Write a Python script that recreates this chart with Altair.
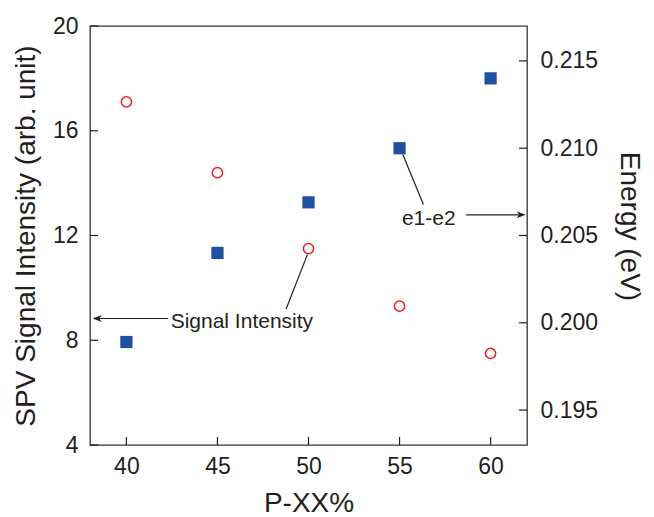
import altair as alt
import pandas as pd

# ---- data ----
p_xx = [40, 45, 50, 55, 60]
signal_intensity = [17.1, 14.4, 11.5, 9.3, 7.5]
energy = [0.1989, 0.2040, 0.2069, 0.2100, 0.2140]

x_ticks = [40, 45, 50, 55, 60]
left_ticks = [4, 8, 12, 16, 20]
right_ticks = [0.195, 0.200, 0.205, 0.210, 0.215]

x_domain = [38, 62]
left_domain = [4, 20]
right_domain = [0.193, 0.217]

# annotations (data units of x and left axis)
label_text = ["Signal Intensity", "e1-e2"]
label_x = [42.43, 55.13]
label_y = [8.47, 12.41]

line_x = [42.29, 48.77, 58.66, 55.18]
line_x2 = [38.4, 49.94, 61.7, 56.31]
line_y = [8.83, 9.19, 12.79, 15.09]
line_y2 = [8.83, 11.27, 12.79, 13.18]

head_x = [38.15, 61.93]
head_y = [8.83, 12.79]
head_dir = ["left", "right"]

W, H = 437, 419
INK = "#231f20"
FONT = "Liberation Sans"

pts = pd.DataFrame({"p": p_xx, "s": signal_intensity, "e": energy})
xs = alt.Scale(domain=x_domain, nice=False, zero=False)
ls = alt.Scale(domain=left_domain, nice=False, zero=False)
rs = alt.Scale(domain=right_domain, nice=False, zero=False)

x_axis = alt.Axis(values=x_ticks, grid=False, ticks=False, domain=False,
                  labelPadding=10, titlePadding=11, title="P-XX%")
l_axis = alt.Axis(values=left_ticks, grid=False, ticks=False, domain=False,
                  labelPadding=12, titlePadding=12, title="SPV Signal Intensity (arb. unit)")
r_axis = alt.Axis(orient="right", values=right_ticks, format=".3f", grid=False,
                  ticks=False, domain=False, labelPadding=13, titlePadding=17,
                  titleY=200, title="Energy (eV)")

circles = alt.Chart(pts).mark_point(shape="circle", filled=False, color="#ec1c24",
                                    size=105, strokeWidth=1.5, opacity=1).encode(
    x=alt.X("p:Q", scale=xs, axis=x_axis),
    y=alt.Y("s:Q", scale=ls, axis=l_axis)
)

left_tick_df = pd.DataFrame({"t": left_ticks})
left_tick_marks = alt.Chart(left_tick_df).mark_rule(color=INK, strokeWidth=1.2).encode(
    y=alt.Y("t:Q", scale=ls, axis=l_axis), x=alt.value(0), x2=alt.value(8))

bottom_tick_df = pd.DataFrame({"t": x_ticks})
bottom_tick_marks = alt.Chart(bottom_tick_df).mark_rule(color=INK, strokeWidth=1.2).encode(
    x=alt.X("t:Q", scale=xs, axis=x_axis), y=alt.value(H), y2=alt.value(H - 8))

lab_df = pd.DataFrame({"t": label_text, "x": label_x, "y": label_y})
labels = alt.Chart(lab_df).mark_text(align="left", baseline="alphabetic", font=FONT,
                                     fontSize=21, color=INK).encode(
    x=alt.X("x:Q", scale=xs, axis=x_axis), y=alt.Y("y:Q", scale=ls, axis=l_axis), text="t:N")

line_df = pd.DataFrame({"x": line_x, "x2": line_x2, "y": line_y, "y2": line_y2})
lines = alt.Chart(line_df).mark_rule(color=INK, strokeWidth=1.2).encode(
    x=alt.X("x:Q", scale=xs, axis=x_axis), x2="x2:Q",
    y=alt.Y("y:Q", scale=ls, axis=l_axis), y2="y2:Q")

head_df = pd.DataFrame({"x": head_x, "y": head_y, "d": head_dir})
path_left = "M0,0L1,-0.38L0.72,0L1,0.38Z"
path_right = "M0,0L-1,-0.38L-0.72,0L-1,0.38Z"
heads = alt.Chart(head_df).mark_point(filled=True, color=INK, strokeWidth=0.5,
                                      size=324, opacity=1).encode(
    x=alt.X("x:Q", scale=xs, axis=x_axis), y=alt.Y("y:Q", scale=ls, axis=l_axis),
    shape=alt.Shape("d:N", scale=alt.Scale(domain=["left", "right"],
                                           range=[path_left, path_right]), legend=None))

left_layer = alt.layer(circles, left_tick_marks, bottom_tick_marks, lines, heads, labels)

squares = alt.Chart(pts).mark_square(color="#2150a2", size=150, opacity=1).encode(
    x=alt.X("p:Q", scale=xs, axis=x_axis),
    y=alt.Y("e:Q", scale=rs, axis=r_axis)
)
right_tick_df = pd.DataFrame({"t": right_ticks})
right_tick_marks = alt.Chart(right_tick_df).mark_rule(color=INK, strokeWidth=1.2).encode(
    y=alt.Y("t:Q", scale=rs, axis=r_axis), x=alt.value(W), x2=alt.value(W - 8))

right_layer = alt.layer(squares, right_tick_marks)

chart = alt.layer(left_layer, right_layer).resolve_scale(y="independent").properties(
    width=W, height=H,
    autosize=alt.AutoSizeParams(type="none"),
    padding={"left": 82, "top": 18, "right": 119, "bottom": 72},
    background="white",
).configure_view(stroke="#333333", strokeWidth=1.3).configure_axis(
    labelFont=FONT, titleFont=FONT, labelFontSize=23, titleFontSize=28,
    labelColor=INK, titleColor=INK, titleFontWeight="normal"
)

chart.save("out.html", embed_options={"renderer": "svg", "actions": False})
